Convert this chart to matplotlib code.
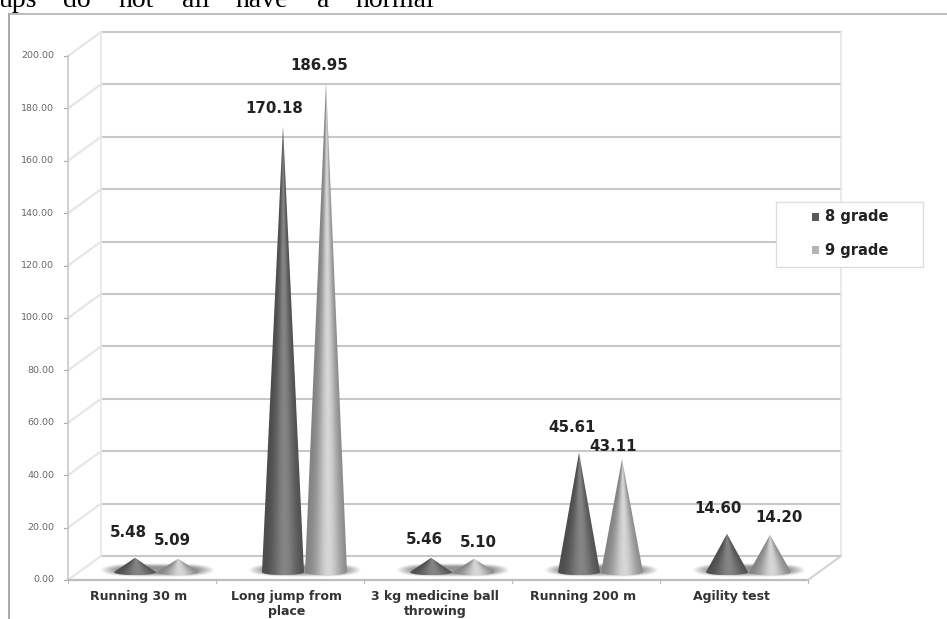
import numpy as np
import matplotlib
matplotlib.use("Agg")
import matplotlib.pyplot as plt
from matplotlib.patches import Polygon, Rectangle
from matplotlib.lines import Line2D

categories = ["Running 30 m", "Long jump from\nplace", "3 kg medicine ball\nthrowing",
              "Running 200 m", "Agility test"]
grade_8 = [5.48, 170.18, 5.46, 45.61, 14.60]
grade_9 = [5.09, 186.95, 5.10, 43.11, 14.20]
series_names = ["8 grade", "9 grade"]
y_ticks = [0, 20, 40, 60, 80, 100, 120, 140, 160, 180, 200]

W, H = 947, 619
# front plane of the 3d box, in pixels
LEFT, RIGHT, BOTTOM, TOP = 68, 808, 580, 56
DEPTH_X, DEPTH_Y = 33, 24

fig = plt.figure(figsize=(W / 100, H / 100), dpi=100)
ax = fig.add_axes([LEFT / W, 1 - BOTTOM / H, (RIGHT - LEFT) / W, (BOTTOM - TOP) / H])
ax.set_xlim(0, 5)
ax.set_ylim(0, 200)
ax.axis("off")

unit_x = (RIGHT - LEFT) / 5
unit_y = (BOTTOM - TOP) / 200
dx = DEPTH_X / unit_x
dy = DEPTH_Y / unit_y
GRID = "#c8c8c8"
WALL = "#e6e6e6"

# grid lines on the back wall and left side wall
for t in y_ticks:
    ax.plot([dx, 5 + dx], [t + dy, t + dy], color=GRID, lw=1.5, clip_on=False, zorder=1)
    ax.plot([0, dx], [t, t + dy], color=WALL, lw=1.6, clip_on=False, zorder=1)
    ax.plot([-0.025, 0], [t, t], color="#aaaaaa", lw=0.8, clip_on=False, zorder=1)
    ax.annotate(f"{t:.2f}", (0, t), xytext=(-10, 0), textcoords="offset points",
                ha="right", va="center", fontsize=6.8, color="#666666", zorder=3)
ax.plot([dx, dx], [dy, 200 + dy], color=WALL, lw=1.2, clip_on=False, zorder=1)
ax.plot([5 + dx, 5 + dx], [dy, 200 + dy], color=WALL, lw=1.2, clip_on=False, zorder=1)
ax.plot([0, 0], [0, 200], color="#c8c8c8", lw=1.2, clip_on=False, zorder=1)
ax.plot([0, 5], [0, 0], color="#bdbdbd", lw=1.6, clip_on=False, zorder=2)
ax.plot([5, 5 + dx], [0, dy], color="#d0d0d0", lw=1.4, clip_on=False, zorder=2)
for i in range(6):
    ax.plot([i, i], [0, -1.2], color="#bbbbbb", lw=0.8, clip_on=False, zorder=2)

ZERO = 3.0  # cones stand in the middle of the floor
HALF = 21 / unit_x
ELL = 3 / unit_y
OFFSET = 21.5 / unit_x
SHIFT = 14.5 / unit_x


def cone_colors(u, low, mid):
    # u runs from -1 to 1 across the cone, highlight a bit right of centre
    shade = np.exp(-((u - 0.1) / 0.6) ** 2)
    return low + (mid - low) * shade


def draw_shadow(cx):
    n = 100
    xs = np.linspace(-1, 1, n)
    ys = np.linspace(-1, 1, 30)
    xx, yy = np.meshgrid(xs, ys)
    a = np.clip((1 - np.sqrt(xx ** 4 + yy ** 2)) * 2.0, 0, 1) * 0.72
    img = np.zeros((30, n, 4))
    img[..., :3] = 0.42
    img[..., 3] = a
    w = 57 / unit_x
    h = 7 / unit_y
    ax.imshow(img, extent=[cx - w, cx + w, ZERO + 1 - h, ZERO + 1 + h], origin="lower",
              aspect="auto", zorder=3, clip_on=False, interpolation="bilinear")


def draw_cone(cx, value, low, mid):
    tip = ZERO + value
    vert = np.linspace(ZERO - ELL, tip, 300)
    xs = np.linspace(cx - HALF, cx + HALF, 90)
    xx, yy = np.meshgrid(xs, vert)
    radius = HALF * np.clip((tip - yy) / value, 0.004, 1)
    u = np.clip((xx - cx) / radius, -1, 1)
    im = ax.imshow(cone_colors(u, low, mid), extent=[xs[0], xs[-1], vert[0], vert[-1]],
                   origin="lower", aspect="auto", cmap="gray", vmin=0, vmax=1,
                   zorder=4, clip_on=True)
    # outline: triangle plus the front half of the base ellipse
    t = np.linspace(np.pi, 2 * np.pi, 30)
    pts = [(cx + HALF * np.cos(a), ZERO + ELL * np.sin(a)) for a in t] + [(cx, tip)]
    patch = Polygon(pts, closed=True, transform=ax.transData, fc="none", ec="none")
    ax.add_patch(patch)
    im.set_clip_path(patch)


for i in range(5):
    draw_shadow(i + 0.5 + SHIFT)
for i in range(5):
    centre = i + 0.5 + SHIFT
    draw_cone(centre - OFFSET, grade_8[i], 0.29, 0.52)
    draw_cone(centre + OFFSET, grade_9[i], 0.50, 0.84)

ax.set_xlim(0, 5)
ax.set_ylim(0, 200)

# value labels, nudged off the tips by hand as in the source chart
label_nudge_8 = [(-7, 25), (-9, 18), (-7, 18), (-7, 25), (-9, 25)]
label_nudge_9 = [(-6, 18), (-7, 17), (4, 16), (-9, 13), (9, 17)]
for i in range(5):
    centre = i + 0.5 + SHIFT
    for val, off, nudge in ((grade_8[i], -OFFSET, label_nudge_8[i]),
                            (grade_9[i], OFFSET, label_nudge_9[i])):
        ax.annotate(f"{val:.2f}", (centre + off, ZERO + val),
                    xytext=(nudge[0] * 0.72, nudge[1] * 0.72), textcoords="offset points",
                    ha="center", va="center", fontsize=10.8, fontweight="bold",
                    color="#222222", zorder=6, annotation_clip=False)
    ax.annotate(categories[i], (i + 0.5, 0), xytext=(-2.2, -7.5), textcoords="offset points",
                ha="center", va="top", fontsize=9, fontweight="bold", color="#333333",
                linespacing=1.15, annotation_clip=False)


def px(x, y):
    return x / W, 1 - y / H


# legend box
x0, y0 = px(776, 267)
x1, y1 = px(923, 202)
fig.add_artist(Rectangle((x0, y0), x1 - x0, y1 - y0, transform=fig.transFigure,
                         fc="white", ec="#dddddd", lw=1.0, zorder=7))
for name, col, yy in zip(series_names, ["#5a5a5a", "#b5b5b5"], [217, 250]):
    fig.add_artist(Rectangle(px(812, yy + 4), 7 / W, 8 / H, transform=fig.transFigure,
                             fc=col, ec="none", zorder=8))
    fig.text(*px(825, yy), name, ha="left", va="center", fontsize=10.5, fontweight="bold",
             color="#222222", zorder=8)

# page frame around the pasted picture
fig.add_artist(Line2D([9 / W, 1], [1 - 14 / H, 1 - 14 / H], color="#b0b0b0", lw=1.2))
fig.add_artist(Line2D([9 / W, 9 / W], [0, 1 - 14 / H], color="#a8a8a8", lw=1.4))

# body text cut by the top of the page
words = ["ups", "do", "not", "all", "have", "a", "normal"]
word_x = [-1, 63, 118, 182, 236, 317, 355]
for w, x in zip(words, word_x):
    fig.text(*px(x, 7), w, ha="left", va="baseline", fontsize=20,
             family="Liberation Serif", color="black")

fig.savefig("out.png", dpi=100)
